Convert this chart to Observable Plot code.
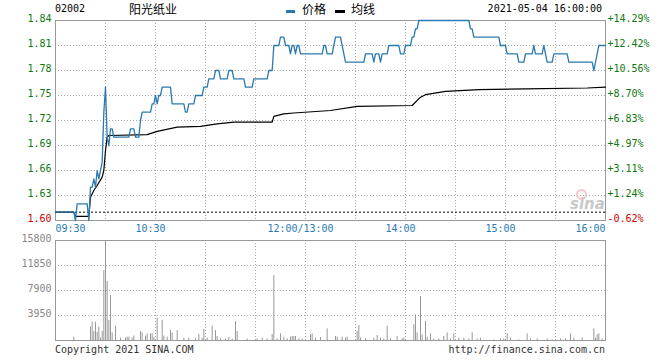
<!DOCTYPE html>
<html><head><meta charset="utf-8">
<script src="https://cdn.jsdelivr.net/npm/d3@7"></script>
<script src="https://cdn.jsdelivr.net/npm/@observablehq/plot@0.6"></script>
<style>
html,body{margin:0;padding:0;background:#fff;}
#wrap{position:relative;width:660px;height:360px;font-family:"DejaVu Sans Mono",monospace;font-size:10px;color:#000;overflow:hidden;}
.t{position:absolute;white-space:nowrap;line-height:1;}
.cjk{font-family:"Noto Sans CJK SC","Noto Sans",sans-serif;font-size:12px;}
#wrap svg{position:absolute;left:0;overflow:visible;}
</style></head><body>
<div id="wrap"></div>
<script>
// ---- data ----
const stockCode = "02002";
const stockName = "阳光纸业";
const legendLabels = ["价格", "均线"];
const stampText = "2021-05-04 16:00:00";
const copyrightText = "Copyright 2021 SINA.COM";
const urlText = "http://finance.sina.com.cn";
const prevClose = 1.61;
const priceTicks = [1.60, 1.63, 1.66, 1.69, 1.72, 1.75, 1.78, 1.81, 1.84];
const volumeTicks = [3950, 7900, 11850, 15800];
const volumeMax = 15800;
// trading-minute index: 0 = 09:30, 150 = 12:00/13:00, 330 = 16:00
const gridMinutes = [30, 60, 90, 120, 150, 180, 210, 240, 270, 300];
const timeTicks = [0, 60, 150, 210, 270, 330];
const timeLabels = ["09:30", "10:30", "12:00/13:00", "14:00", "15:00", "16:00"];

const price = [[0,1.61],[11,1.61],[12,1.60],[13,1.62],[19,1.62],[20,1.60],[21,1.64],[22,1.64],[23,1.65],[24,1.64],[25,1.66],[26,1.65],[27,1.66],[28,1.67],[29,1.73],[30,1.76],[31,1.70],[32,1.69],[33,1.71],[34,1.71],[35,1.70],[44,1.70],[45,1.71],[47,1.71],[48,1.70],[50,1.70],[51,1.72],[52,1.73],[57,1.73],[58,1.74],[59,1.74],[60,1.75],[61,1.74],[62,1.75],[63,1.75],[64,1.76],[69,1.76],[70,1.74],[77,1.74],[78,1.73],[79,1.73],[80,1.74],[83,1.74],[84,1.75],[88,1.75],[89,1.76],[91,1.76],[92,1.77],[95,1.77],[96,1.78],[98,1.78],[99,1.77],[103,1.77],[104,1.78],[106,1.78],[107,1.77],[113,1.77],[114,1.76],[118,1.76],[119,1.77],[127,1.77],[128,1.78],[130,1.78],[131,1.81],[134,1.81],[135,1.82],[137,1.82],[138,1.81],[140,1.81],[141,1.80],[142,1.81],[143,1.81],[144,1.80],[145,1.81],[146,1.81],[147,1.80],[160,1.80],[161,1.81],[162,1.81],[163,1.80],[166,1.80],[167,1.81],[168,1.82],[171,1.82],[172,1.81],[173,1.80],[174,1.79],[185,1.79],[186,1.80],[190,1.80],[191,1.79],[192,1.80],[194,1.80],[195,1.79],[196,1.80],[199,1.80],[200,1.81],[206,1.81],[207,1.80],[209,1.80],[210,1.81],[213,1.81],[214,1.82],[215,1.82],[216,1.83],[217,1.83],[218,1.84],[248,1.84],[249,1.83],[250,1.83],[251,1.82],[266,1.82],[267,1.81],[270,1.81],[271,1.80],[277,1.80],[278,1.79],[281,1.79],[282,1.80],[286,1.80],[287,1.81],[288,1.80],[292,1.80],[293,1.81],[294,1.80],[295,1.79],[298,1.79],[299,1.80],[307,1.80],[308,1.79],[322,1.79],[323,1.78],[324,1.79],[325,1.80],[326,1.81],[330,1.81]];

const average = [[0,1.61],[11,1.61],[12,1.605],[20,1.605],[21,1.628],[23,1.636],[25,1.642],[28,1.652],[29,1.66],[30,1.684],[31,1.70],[32,1.702],[55,1.703],[61,1.707],[73,1.712],[87,1.713],[97,1.716],[107,1.718],[130,1.718],[131,1.725],[137,1.728],[143,1.729],[165,1.732],[181,1.737],[214,1.738],[219,1.748],[222,1.751],[234,1.755],[254,1.757],[282,1.758],[319,1.759],[330,1.76]];

const volume = [[11,530],[21,2100],[22,2900],[23,1420],[24,2900],[25,1300],[26,2100],[27,370],[28,1420],[29,11060],[30,15800],[31,9320],[32,3160],[33,7110],[34,1210],[36,2270],[39,370],[42,370],[43,530],[44,530],[46,370],[47,690],[51,1420],[52,1210],[54,690],[55,1050],[57,1050],[58,1050],[59,530],[61,3530],[64,3160],[65,690],[67,530],[69,1580],[70,1160],[73,1580],[77,370],[80,370],[84,250],[86,950],[88,370],[89,1740],[91,370],[94,2270],[96,1580],[97,630],[99,250],[102,250],[104,470],[106,250],[108,3000],[109,1420],[115,250],[121,250],[124,370],[127,250],[130,950],[131,10270],[133,250],[135,1050],[137,530],[139,250],[141,530],[142,630],[143,630],[144,630],[146,250],[148,250],[153,900],[154,1050],[156,370],[159,470],[163,1840],[168,630],[169,530],[172,530],[174,370],[175,530],[181,1420],[182,2370],[183,370],[186,250],[191,370],[193,790],[195,370],[197,250],[199,2270],[201,250],[205,630],[208,250],[209,370],[215,2480],[216,4060],[217,1210],[219,6950],[220,900],[222,3000],[223,530],[225,1050],[227,250],[230,250],[233,630],[235,1210],[237,250],[239,1050],[242,370],[245,370],[248,250],[250,1210],[253,250],[255,370],[263,100],[267,250],[269,250],[271,1050],[273,370],[278,100],[283,1050],[285,250],[289,250],[295,250],[298,100],[303,250],[306,250],[309,1050],[311,370],[316,420],[323,1840],[324,370],[325,900],[326,1050],[328,250]];

// ---- styles ----
const BLUE = "#2a7ab0", GREEN = "#117711", RED = "#cc0000", GRID = "#aaa", FRAME = "#999";
const MONO = "DejaVu Sans Mono";
const wrap = document.getElementById("wrap");

function addText(txt, css, cls) {
  const d = document.createElement("div");
  d.className = "t" + (cls ? " " + cls : "");
  d.textContent = txt;
  Object.assign(d.style, css);
  wrap.appendChild(d);
  return d;
}
function addBox(css) {
  const d = document.createElement("div");
  d.style.position = "absolute";
  Object.assign(d.style, css);
  wrap.appendChild(d);
}

const pctLabel = v => { const p = (v / prevClose - 1) * 100; return (p >= 0 ? "+" : "") + p.toFixed(2) + "%"; };

const pricePlot = Plot.plot({
  width: 660, height: 230,
  marginLeft: 55, marginRight: 55, marginTop: 20, marginBottom: 10,
  x: {domain: [0, 330], axis: null},
  y: {domain: [1.60, 1.84], axis: null},
  style: {background: "transparent", overflow: "visible", fontFamily: MONO, fontSize: "10px"},
  marks: [
    Plot.ruleY(priceTicks.slice(1, -1), {stroke: GRID, strokeDasharray: "1,2"}),
    Plot.ruleX(gridMinutes, {stroke: GRID, strokeDasharray: "1,2"}),
    Plot.ruleY([prevClose], {stroke: "#000", strokeDasharray: "2,2"}),
    Plot.frame({stroke: FRAME}),
    Plot.line(average, {x: d => d[0], y: d => d[1], stroke: "#000", strokeWidth: 1.2}),
    Plot.line(price, {x: d => d[0], y: d => d[1], stroke: BLUE, strokeWidth: 1.3}),
    Plot.text(priceTicks, {x: () => 0, y: d => d, text: d => d.toFixed(2), textAnchor: "end", dx: -4, dy: -2,
      fill: d => d < prevClose ? RED : GREEN, fontFamily: MONO, fontSize: 10}),
    Plot.text(priceTicks, {x: () => 330, y: d => d, text: pctLabel, textAnchor: "start", dx: 2, dy: -2,
      fill: d => d < prevClose ? RED : GREEN, fontFamily: MONO, fontSize: 10}),
    Plot.text([0], {x: d => timeTicks[d], y: () => 1.60, text: d => timeLabels[d], textAnchor: "start", dy: 8, fill: BLUE, fontFamily: MONO, fontSize: 10}),
    Plot.text([1, 2, 3, 4], {x: d => timeTicks[d], y: () => 1.60, text: d => timeLabels[d], textAnchor: "middle", dx: -5, dy: 8, fill: BLUE, fontFamily: MONO, fontSize: 10}),
    Plot.text([5], {x: d => timeTicks[d], y: () => 1.60, text: d => timeLabels[d], textAnchor: "end", dy: 8, fill: BLUE, fontFamily: MONO, fontSize: 10})
  ]
});
pricePlot.style.top = "0px";
wrap.appendChild(pricePlot);

const volPlot = Plot.plot({
  width: 660, height: 112,
  marginLeft: 55, marginRight: 55, marginTop: 10, marginBottom: 2,
  x: {domain: [0, 330], axis: null},
  y: {domain: [0, volumeMax], axis: null},
  style: {background: "transparent", overflow: "visible", fontFamily: MONO, fontSize: "10px"},
  marks: [
    Plot.ruleY(volumeTicks.slice(0, -1), {stroke: GRID, strokeDasharray: "1,2"}),
    Plot.ruleX(gridMinutes, {stroke: GRID, strokeDasharray: "1,2"}),
    Plot.ruleX(volume, {x: d => d[0], y1: () => 0, y2: d => d[1], stroke: "#999", strokeWidth: 1}),
    Plot.frame({stroke: FRAME}),
    Plot.text(volumeTicks, {x: () => 0, y: d => d, text: d => String(d), textAnchor: "end", dx: -4, dy: -2, fill: "#888", fontFamily: MONO, fontSize: 10})
  ]
});
volPlot.style.top = "230px";
wrap.appendChild(volPlot);

// header
addText(stockCode, {left: "55px", top: "4px"});
addText(stockName, {left: "129px", top: "3px"}, "cjk");
addBox({left: "286px", top: "10px", width: "9px", height: "3px", background: BLUE});
addText(legendLabels[0], {left: "302px", top: "3px"}, "cjk");
addBox({left: "335px", top: "10px", width: "10px", height: "3px", background: "#000"});
addText(legendLabels[1], {left: "351px", top: "3px"}, "cjk");
addText(stampText, {right: "58px", top: "4px"});
// footer
addText(copyrightText, {left: "55px", top: "345px", color: "#333"});
addText(urlText, {right: "55px", top: "345px", color: "#333"});
// watermark
addBox({left: "576px", top: "189px", width: "11px", height: "11px", borderRadius: "50%", border: "2px solid #f4b8c0", boxSizing: "border-box", opacity: "0.8"});
addText("sina", {left: "570px", top: "197px", fontFamily: "DejaVu Sans", fontStyle: "italic", fontWeight: "bold", fontSize: "15px", color: "#c8c8c8"});
</script>
</body></html>
